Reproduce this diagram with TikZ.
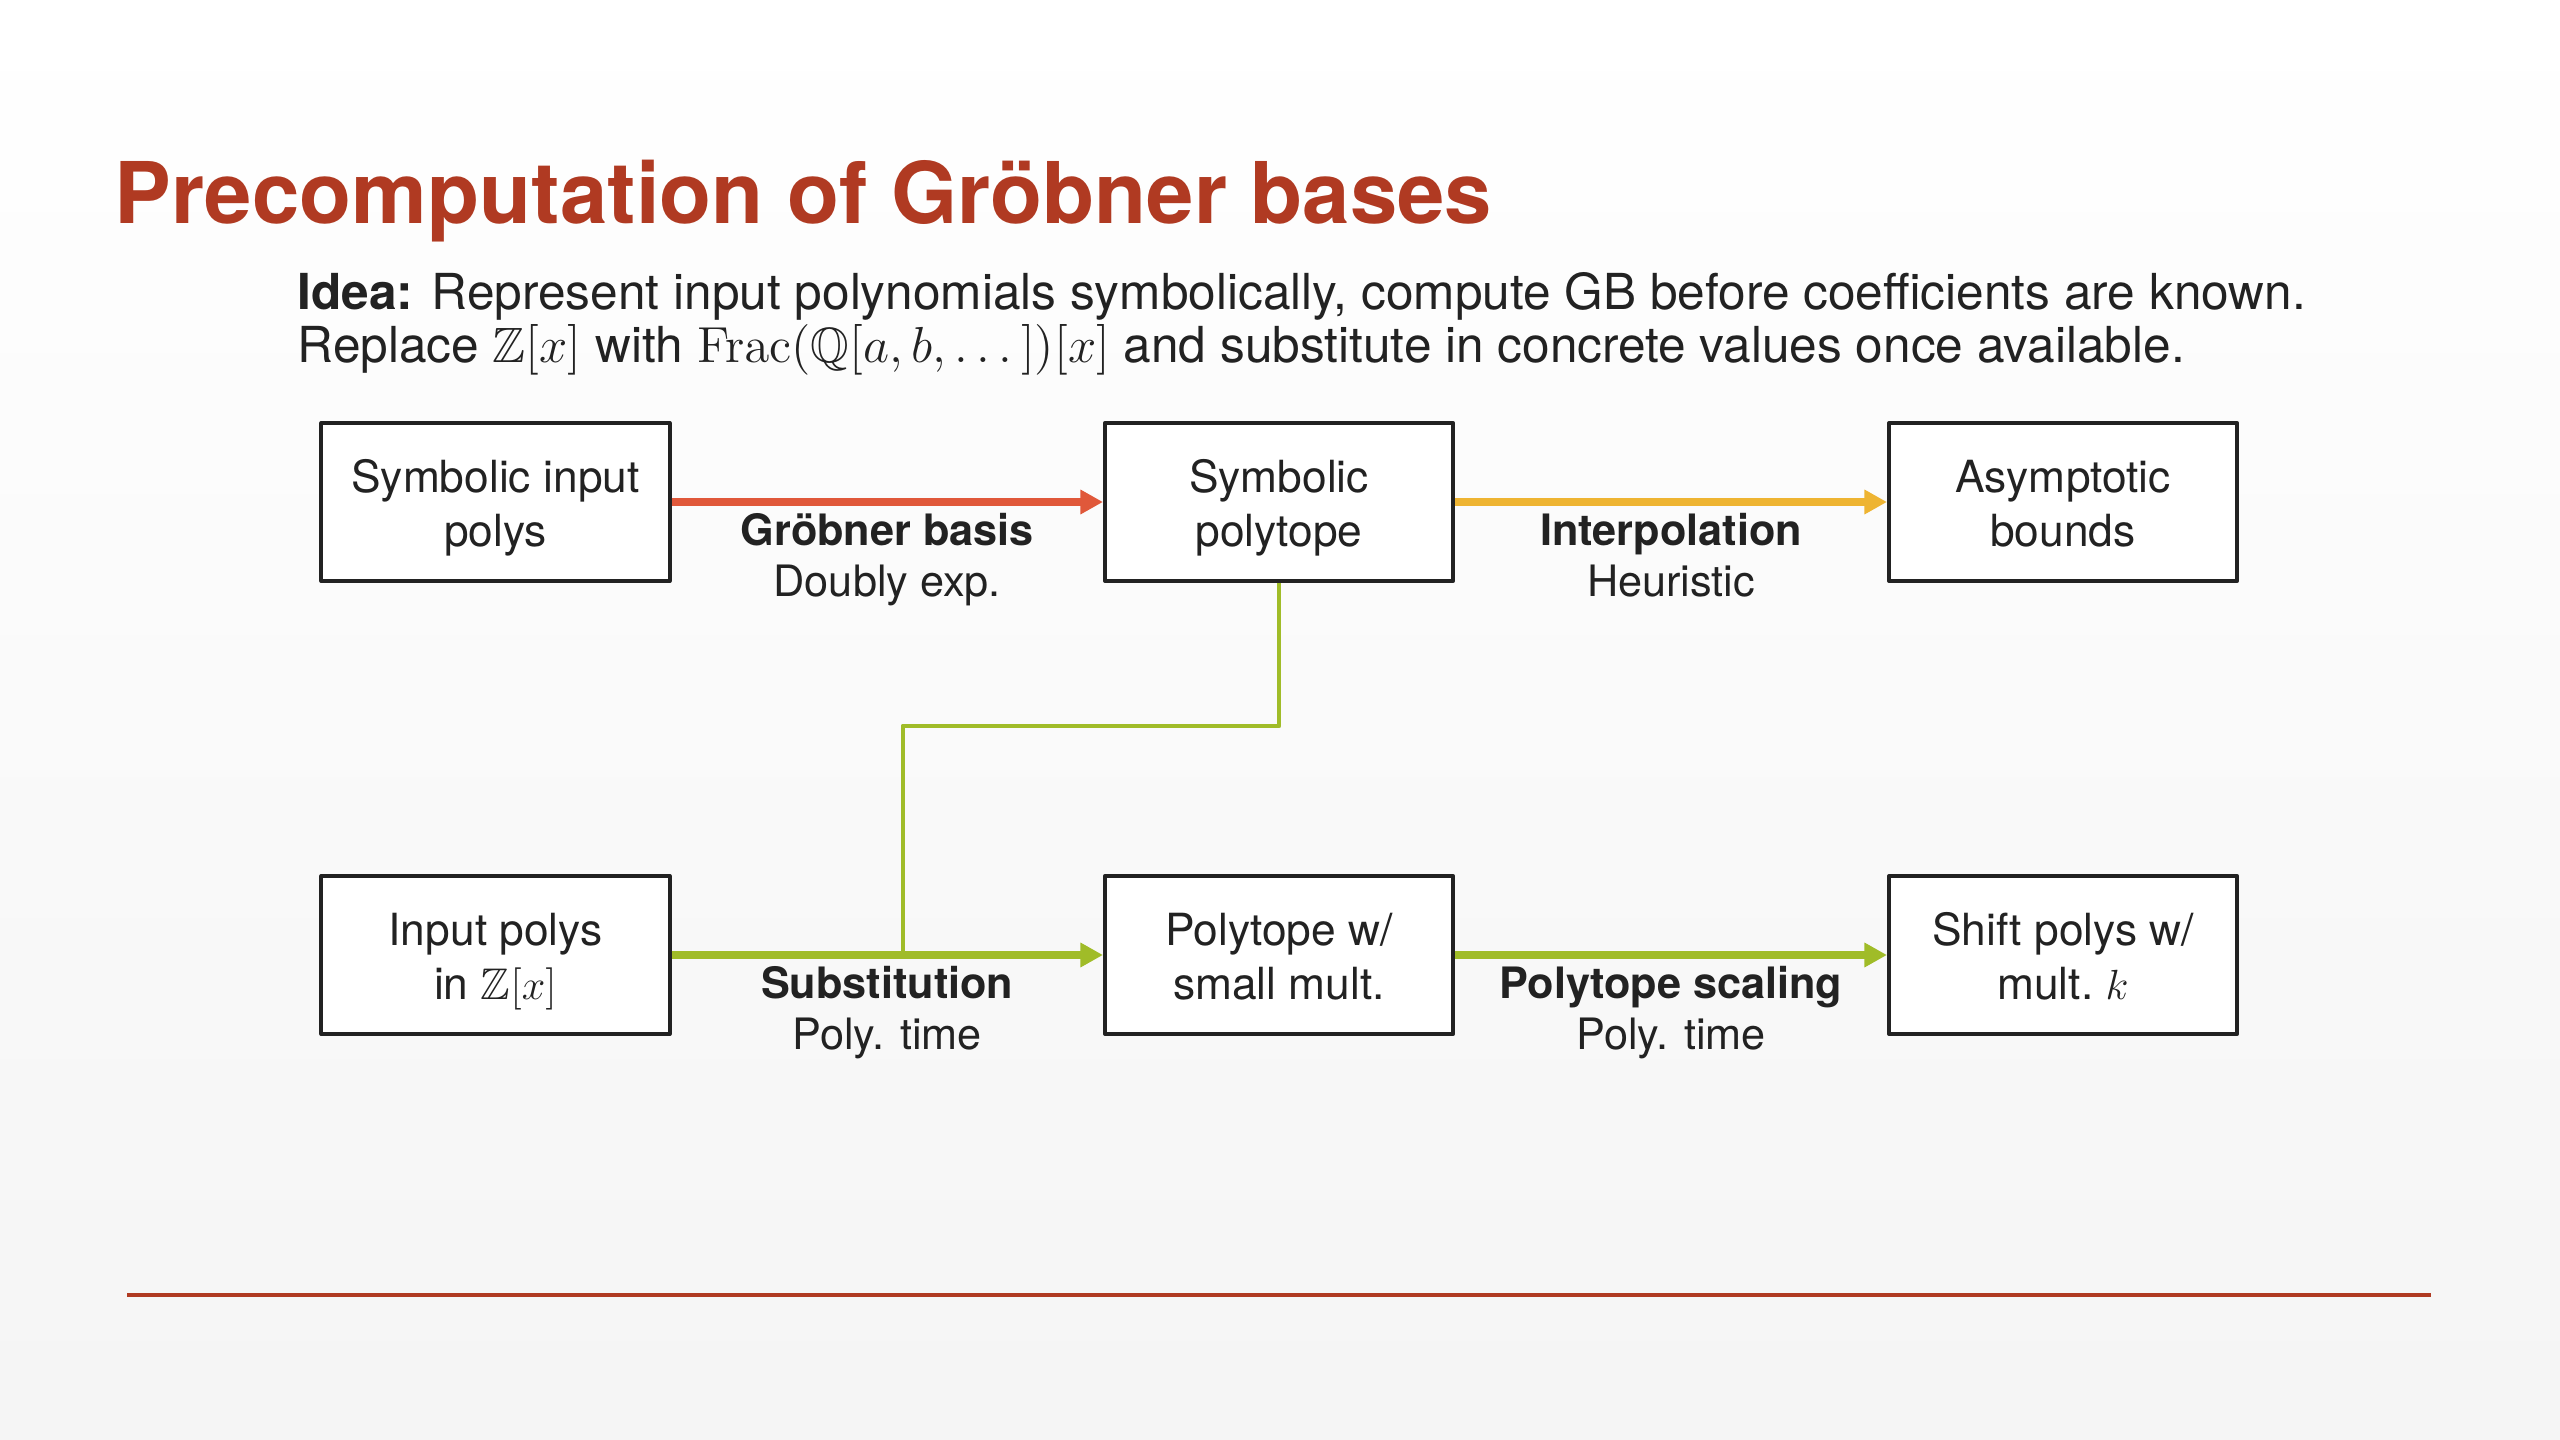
\documentclass[tikz,border=0pt]{standalone}
\usepackage{amsmath,amssymb}
\usepackage[no-math]{fontspec}
\setmainfont{TeX Gyre Heros}
\usepackage{xcolor}
\usetikzlibrary{arrows.meta}

\definecolor{slidered}{RGB}{176,58,34}
\definecolor{gbred}{RGB}{224,88,58}
\definecolor{interpyellow}{RGB}{238,180,50}
\definecolor{polygreen}{RGB}{160,188,40}
\definecolor{inkgray}{RGB}{34,34,34}

\begin{document}
\begin{tikzpicture}[x=0.01cm,y=-0.01cm,line join=round,
  stagebox/.style={draw=inkgray,line width=1.1pt,fill=white,minimum width=3.48cm,
    minimum height=1.58cm,align=center,text=inkgray,font=\fontsize{12.6}{15.3}\selectfont,
    execute at end node=\rule[-3.8pt]{0pt}{32.8pt}},
  flow/.style={line width=2.2pt,-{Triangle[length=6.4pt,width=6.6pt]}},
  steplabel/.style={below,align=center,text=inkgray,inner sep=1pt,yshift=-1.1pt,
    font=\fontsize{12.3}{14.4}\selectfont,
    execute at begin node=\strut,execute at end node=\strut},
  ideatext/.style={anchor=base west,inner sep=0pt,text=inkgray,
    font=\fontsize{14.1}{16}\selectfont}]
  % slide background
  \shade[top color=white,bottom color=black!4] (0,0) rectangle (2560,1440);
  \useasboundingbox (0,0) rectangle (2560,1440);
  % heading
  \node[anchor=base west,inner sep=0pt,text=slidered,
    font=\fontsize{24.2}{29}\selectfont\bfseries] (title) at (114,224)
    {Precomputation of Gröbner bases};
  \node[ideatext] (idea1) at (297,310)
    {\textbf{Idea:} Represent input polynomials symbolically, compute GB before coefficients are known.};
  \node[ideatext] (idea2) at (297,363)
    {Replace $\mathbb{Z}[x]$ with $\mathrm{Frac}(\mathbb{Q}[a,b,\dots])[x]$ and substitute in concrete values once available.};
  % stages
  \node[stagebox] (symin) at (495.5,502) {Symbolic input\\polys};
  \node[stagebox] (sympoly) at (1279,502) {Symbolic\\polytope};
  \node[stagebox] (asym) at (2063,502) {Asymptotic\\bounds};
  \node[stagebox] (inpoly) at (495.5,955) {Input polys\\in $\mathbb{Z}[x]$};
  \node[stagebox] (smallmult) at (1279,955) {Polytope w/\\small mult.};
  \node[stagebox] (shift) at (2063,955) {Shift polys w/\\mult.~$k$};
  % connectors
  \coordinate (bend) at (903,726);
  \coordinate (merge) at (903,955);
  \draw[polygreen,line width=1.4pt] (sympoly.south) -- (sympoly.south |- bend) -| (merge);
  \draw[flow,gbred] (symin) -- node[steplabel] {\textbf{Gröbner basis}\\Doubly exp.} (sympoly);
  \draw[flow,interpyellow] (sympoly) -- node[steplabel] {\textbf{Interpolation}\\Heuristic} (asym);
  \draw[flow,polygreen] (inpoly) -- node[steplabel] {\textbf{Substitution}\\Poly. time} (smallmult);
  \draw[flow,polygreen] (smallmult) -- node[steplabel] {\textbf{Polytope scaling}\\Poly. time} (shift);
  % footer rule
  \draw[slidered,line width=1.2pt] (127,1295) -- (2431,1295);
\end{tikzpicture}
\end{document}
